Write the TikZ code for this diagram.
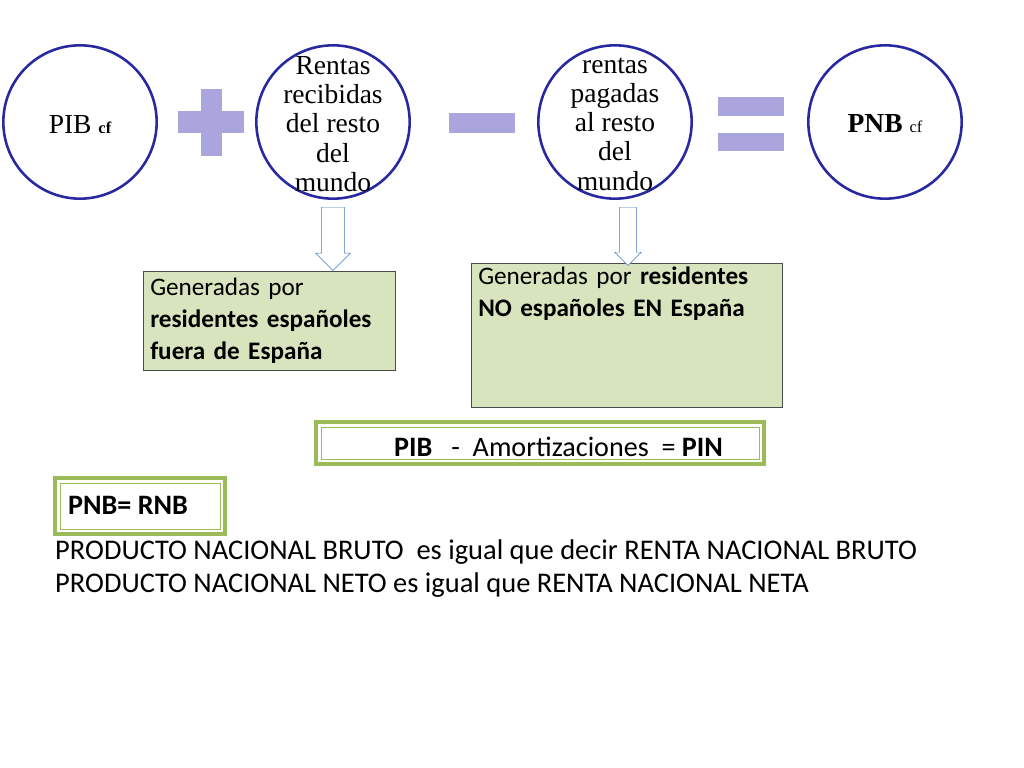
\documentclass[tikz,border=0pt]{standalone}
\usepackage{fontspec}
\setmainfont{Liberation Serif}
\newfontfamily\boxfont{Carlito}
\usetikzlibrary{shapes.arrows}
\definecolor{ringblue}{RGB}{40,40,160}
\definecolor{signlila}{RGB}{170,165,220}
\definecolor{boxgreen}{RGB}{215,228,189}
\definecolor{framegreen}{RGB}{155,187,89}
\definecolor{arrowblue}{RGB}{60,120,190}
\tikzset{
  ring/.style={circle, draw=ringblue, line width=2.2pt, minimum size=4.6cm},
  ringtext/.style={align=center, font=\fontsize{23.5}{25}\selectfont},
  notebox/.style={draw=black!70, fill=boxgreen, anchor=north west, align=left,
     font=\boxfont\fontsize{21.5}{27}\selectfont, inner sep=6pt, text width=#1},
  frameout/.style={draw=framegreen, line width=3.5pt},
  framein/.style={draw=framegreen, line width=0.8pt},
  sign/.style={fill=signlila, draw=none}
}
\begin{document}
\begin{tikzpicture}[x=0.03cm, y=-0.03cm]
  \useasboundingbox (0,0) rectangle (1024,768);
  % circles
  \node (pib) [ring] at (80,122) {};
  \node (rec) [ring] at (333,122) {};
  \node (pag) [ring] at (615,122) {};
  \node (pnb) [ring] at (885,122) {};
  \node (pibt) [ringtext] at (80,125) {PIB {\fontsize{14}{14}\selectfont\bfseries cf}};
  \node (rect) [ringtext] at (333,124) {Rentas\\recibidas\\del resto\\del\\mundo};
  \node (pagt) [ringtext] at (615,124) {rentas\\pagadas\\al resto\\del\\mundo};
  \node (pnbt) [ringtext] at (885,124) {\bfseries PNB {\fontsize{14}{14}\selectfont\mdseries cf}};
  % signs
  \fill[sign] (178,111) rectangle (244,133);
  \fill[sign] (201,89) rectangle (222,156);
  \fill[sign] (449,113) rectangle (515,133);
  \fill[sign] (718,97) rectangle (784,116);
  \fill[sign] (718,133) rectangle (784,151);
  % boxes
  \node (gen1) [notebox=7.15cm] at (143,271) {Generadas por\\\textbf{residentes españoles}\\\textbf{fuera de España}};
  \node (gen2) [notebox=8.9cm, inner ysep=3pt] at (471,263) {Generadas por \textbf{residentes}\\\textbf{NO españoles EN España}\\\mbox{}\\\mbox{}\\[-6pt]\mbox{}};
  % block arrows
  \node (arr1) [single arrow, draw=arrowblue, fill=white, shape border rotate=270,
     minimum width=1.05cm, single arrow head extend=0.15cm, single arrow head indent=0cm,
     inner sep=0pt, minimum height=1.9cm, anchor=north, text width=0.55cm] at (333,207) {};
  \node (arr2) [single arrow, draw=arrowblue, fill=white, shape border rotate=270,
     minimum width=0.8cm, single arrow head extend=0.12cm,
     inner sep=0pt, minimum height=1.75cm, anchor=north, text width=0.4cm] at (628,207) {};
  % formulas
  \draw[frameout] (316,422) rectangle (764,464);
  \draw[framein] (321,427) rectangle (759,459);
  \node (pin) [font=\boxfont\fontsize{24}{24}\selectfont, anchor=west] at (390,447)
     {\textbf{PIB}\ \ \ -\ \ Amortizaciones\ \ = \textbf{PIN}};
  \draw[frameout] (55,478) rectangle (225,534);
  \draw[framein] (60,483) rectangle (220,529);
  \node (rnb) [font=\boxfont\bfseries\fontsize{24}{24}\selectfont, anchor=west] at (64,505) {PNB= RNB};
  \node (txt) [font=\boxfont\fontsize{24.3}{29}\selectfont, anchor=north west, align=left, inner sep=0pt] at (55,539)
     {PRODUCTO NACIONAL BRUTO\ \ es igual que decir RENTA NACIONAL BRUTO\\
      PRODUCTO NACIONAL NETO es igual que RENTA NACIONAL NETA};
\end{tikzpicture}
\end{document}
